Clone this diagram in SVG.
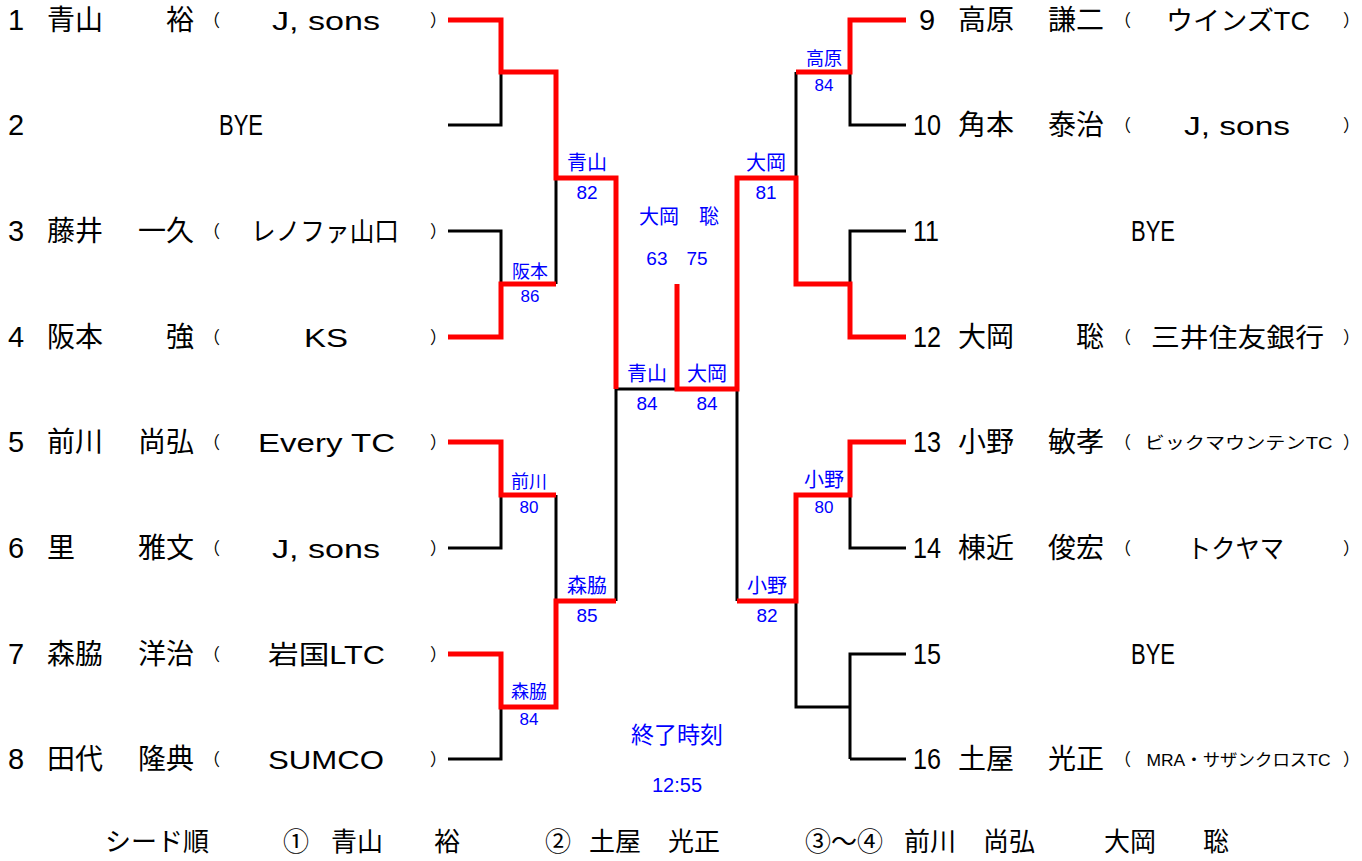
<svg xmlns="http://www.w3.org/2000/svg" width="1362" height="861" viewBox="0 0 1362 861">
<style>
.k{stroke:#000;stroke-width:3;fill:none}
.r{stroke:#ff0000;stroke-width:5;fill:none}
text{font-family:"Liberation Sans","Noto Sans CJK JP",sans-serif;fill:#000}
.nm{font-family:"Noto Sans CJK JP",sans-serif;font-size:28px}
.ge{font-family:"Noto Sans CJK JP",sans-serif;font-size:28px;text-anchor:end}
.no{font-size:29px}
.pa{font-family:"Noto Sans CJK JP",sans-serif;font-size:17px}
.tm{font-size:26px;text-anchor:middle}
.ts{font-size:17px;text-anchor:middle}
.bye{font-size:30px;text-anchor:middle}
.bl{fill:#0000ff;text-anchor:middle}
.b20{font-size:20px}
.b18{font-size:18px}
.n19{font-size:19px}
.n17{font-size:17px}
.sd{font-family:"Noto Sans CJK JP",sans-serif;font-size:26px}
</style>
<rect width="1362" height="861" fill="#fff"/>
<g id="connectors">
<path class="k" d="M448,125H501V72M448,231H501V284M448,548H501V495M448,759H501V707M556,178V284M556,495V601M616,389V601M616,389H677"/>
<path class="k" d="M906,125H850V72M906,231H850V284M906,548H850V495M906,654H850V759M906,759H850M796,72V178M796,601V707H850M737,389V601"/>
<path class="r" d="M448,20H501V72H556V178H616V389"/>
<path class="r" d="M448,337H501V284H556"/>
<path class="r" d="M448,442H501V495H556"/>
<path class="r" d="M448,654H501V707H556V601H616"/>
<path class="r" d="M677,284V389H737V178H796V284H850V337H906"/>
<path class="r" d="M906,20H850V72H796"/>
<path class="r" d="M906,442H850V495H796V601H737"/>
</g>
<g id="p1"><text class="no" x="8" y="30">1</text><text class="nm" x="47" y="30">青山</text><text class="ge" x="194" y="30">裕</text><text class="pa" x="203" y="27">（</text><text class="tm" x="326" y="30" textLength="108" lengthAdjust="spacingAndGlyphs">J, sons</text><text class="pa" x="430" y="27">）</text></g>
<g id="p2"><text class="no" x="8" y="135">2</text><text class="bye" x="241" y="135" textLength="44" lengthAdjust="spacingAndGlyphs">BYE</text></g>
<g id="p3"><text class="no" x="8" y="241">3</text><text class="nm" x="47" y="241">藤井</text><text class="ge" x="194" y="241">一久</text><text class="pa" x="203" y="238">（</text><text class="tm" x="325" y="241" textLength="148" lengthAdjust="spacingAndGlyphs">レノファ山口</text><text class="pa" x="430" y="238">）</text></g>
<g id="p4"><text class="no" x="8" y="347">4</text><text class="nm" x="47" y="347">阪本</text><text class="ge" x="194" y="347">強</text><text class="pa" x="203" y="344">（</text><text class="tm" x="326" y="347" textLength="44" lengthAdjust="spacingAndGlyphs">KS</text><text class="pa" x="430" y="344">）</text></g>
<g id="p5"><text class="no" x="8" y="452">5</text><text class="nm" x="47" y="452">前川</text><text class="ge" x="194" y="452">尚弘</text><text class="pa" x="203" y="449">（</text><text class="tm" x="326.5" y="452" textLength="137" lengthAdjust="spacingAndGlyphs">Every TC</text><text class="pa" x="430" y="449">）</text></g>
<g id="p6"><text class="no" x="8" y="558">6</text><text class="nm" x="47" y="558">里</text><text class="ge" x="194" y="558">雅文</text><text class="pa" x="203" y="555">（</text><text class="tm" x="326" y="558" textLength="108" lengthAdjust="spacingAndGlyphs">J, sons</text><text class="pa" x="430" y="555">）</text></g>
<g id="p7"><text class="no" x="8" y="664">7</text><text class="nm" x="47" y="664">森脇</text><text class="ge" x="194" y="664">洋治</text><text class="pa" x="203" y="661">（</text><text class="tm" x="326.5" y="664" textLength="117" lengthAdjust="spacingAndGlyphs">岩国LTC</text><text class="pa" x="430" y="661">）</text></g>
<g id="p8"><text class="no" x="8" y="769">8</text><text class="nm" x="47" y="769">田代</text><text class="ge" x="194" y="769">隆典</text><text class="pa" x="203" y="766">（</text><text class="tm" x="326" y="769" textLength="116" lengthAdjust="spacingAndGlyphs">SUMCO</text><text class="pa" x="430" y="766">）</text></g>
<g id="p9"><text class="no" x="919" y="30">9</text><text class="nm" x="958" y="30">高原</text><text class="ge" x="1104" y="30">謙二</text><text class="pa" x="1114" y="27">（</text><text class="tm" x="1238" y="30" textLength="144" lengthAdjust="spacingAndGlyphs">ウインズTC</text><text class="pa" x="1343" y="27">）</text></g>
<g id="p10"><text class="no" x="913" y="135" textLength="28" lengthAdjust="spacingAndGlyphs">10</text><text class="nm" x="958" y="135">角本</text><text class="ge" x="1104" y="135">泰治</text><text class="pa" x="1114" y="132">（</text><text class="tm" x="1237" y="135" textLength="106" lengthAdjust="spacingAndGlyphs">J, sons</text><text class="pa" x="1343" y="132">）</text></g>
<g id="p11"><text class="no" x="913" y="241" textLength="26" lengthAdjust="spacingAndGlyphs">11</text><text class="bye" x="1153" y="241" textLength="44" lengthAdjust="spacingAndGlyphs">BYE</text></g>
<g id="p12"><text class="no" x="913" y="347" textLength="28" lengthAdjust="spacingAndGlyphs">12</text><text class="nm" x="958" y="347">大岡</text><text class="ge" x="1104" y="347">聡</text><text class="pa" x="1114" y="344">（</text><text class="tm" x="1237.5" y="347" textLength="173" lengthAdjust="spacingAndGlyphs">三井住友銀行</text><text class="pa" x="1343" y="344">）</text></g>
<g id="p13"><text class="no" x="913" y="452" textLength="28" lengthAdjust="spacingAndGlyphs">13</text><text class="nm" x="958" y="452">小野</text><text class="ge" x="1104" y="452">敏孝</text><text class="pa" x="1114" y="449">（</text><text class="ts" x="1238.5" y="449" textLength="188" lengthAdjust="spacingAndGlyphs">ビックマウンテンTC</text><text class="pa" x="1343" y="449">）</text></g>
<g id="p14"><text class="no" x="913" y="558" textLength="28" lengthAdjust="spacingAndGlyphs">14</text><text class="nm" x="958" y="558">棟近</text><text class="ge" x="1104" y="558">俊宏</text><text class="pa" x="1114" y="555">（</text><text class="tm" x="1235.5" y="558" textLength="97" lengthAdjust="spacingAndGlyphs">トクヤマ</text><text class="pa" x="1343" y="555">）</text></g>
<g id="p15"><text class="no" x="913" y="664" textLength="28" lengthAdjust="spacingAndGlyphs">15</text><text class="bye" x="1153" y="664" textLength="44" lengthAdjust="spacingAndGlyphs">BYE</text></g>
<g id="p16"><text class="no" x="913" y="769" textLength="28" lengthAdjust="spacingAndGlyphs">16</text><text class="nm" x="958" y="769">土屋</text><text class="ge" x="1104" y="769">光正</text><text class="pa" x="1114" y="766">（</text><text class="ts" x="1238.5" y="766" textLength="184" lengthAdjust="spacingAndGlyphs">MRA・サザンクロスTC</text><text class="pa" x="1343" y="766">）</text></g>
<g id="m-r1-sakamoto"><text class="bl b18" x="530" y="278">阪本</text><text class="bl n17" x="530" y="302">86</text></g>
<g id="m-r1-maekawa"><text class="bl b18" x="529" y="488">前川</text><text class="bl n17" x="529" y="513">80</text></g>
<g id="m-r1-moriwaki"><text class="bl b18" x="529" y="698">森脇</text><text class="bl n17" x="529" y="725">84</text></g>
<g id="m-r1-takahara"><text class="bl b18" x="824" y="65">高原</text><text class="bl n17" x="824" y="91">84</text></g>
<g id="m-r1-ono"><text class="bl b20" x="824" y="487">小野</text><text class="bl n17" x="824" y="513">80</text></g>
<g id="m-r2-aoyama"><text class="bl b20" x="587" y="170">青山</text><text class="bl n19" x="587" y="199">82</text></g>
<g id="m-r2-moriwaki"><text class="bl b20" x="587" y="593">森脇</text><text class="bl n19" x="587" y="622">85</text></g>
<g id="m-r2-ooka"><text class="bl b20" x="766" y="170">大岡</text><text class="bl n19" x="766" y="199">81</text></g>
<g id="m-r2-ono"><text class="bl b20" x="767" y="593">小野</text><text class="bl n19" x="767" y="622">82</text></g>
<g id="m-sf-aoyama"><text class="bl b20" x="647" y="381">青山</text><text class="bl n19" x="647" y="410">84</text></g>
<g id="m-sf-ooka"><text class="bl b20" x="707" y="381">大岡</text><text class="bl n19" x="707" y="410">84</text></g>
<g id="m-final"><text class="bl b20" x="679" y="224">大岡　聡</text><text class="bl n19" x="677" y="265">63　75</text></g>
<g id="end-time"><text class="bl" style="font-size:23px" x="677" y="743">終了時刻</text><text class="bl" style="font-size:20px" x="677" y="792">12:55</text></g>
<g id="seeds"><text class="sd" x="105" y="851">シード順</text><text class="sd" x="283" y="851">①</text><text class="sd" x="331" y="851">青山</text><text class="sd" x="434" y="851">裕</text><text class="sd" x="545" y="851">②</text><text class="sd" x="589" y="851">土屋</text><text class="sd" x="668" y="851">光正</text><text class="sd" x="805" y="851">③～④</text><text class="sd" x="904" y="851">前川</text><text class="sd" x="983" y="851">尚弘</text><text class="sd" x="1104" y="851">大岡</text><text class="sd" x="1203" y="851">聡</text></g>
</svg>
